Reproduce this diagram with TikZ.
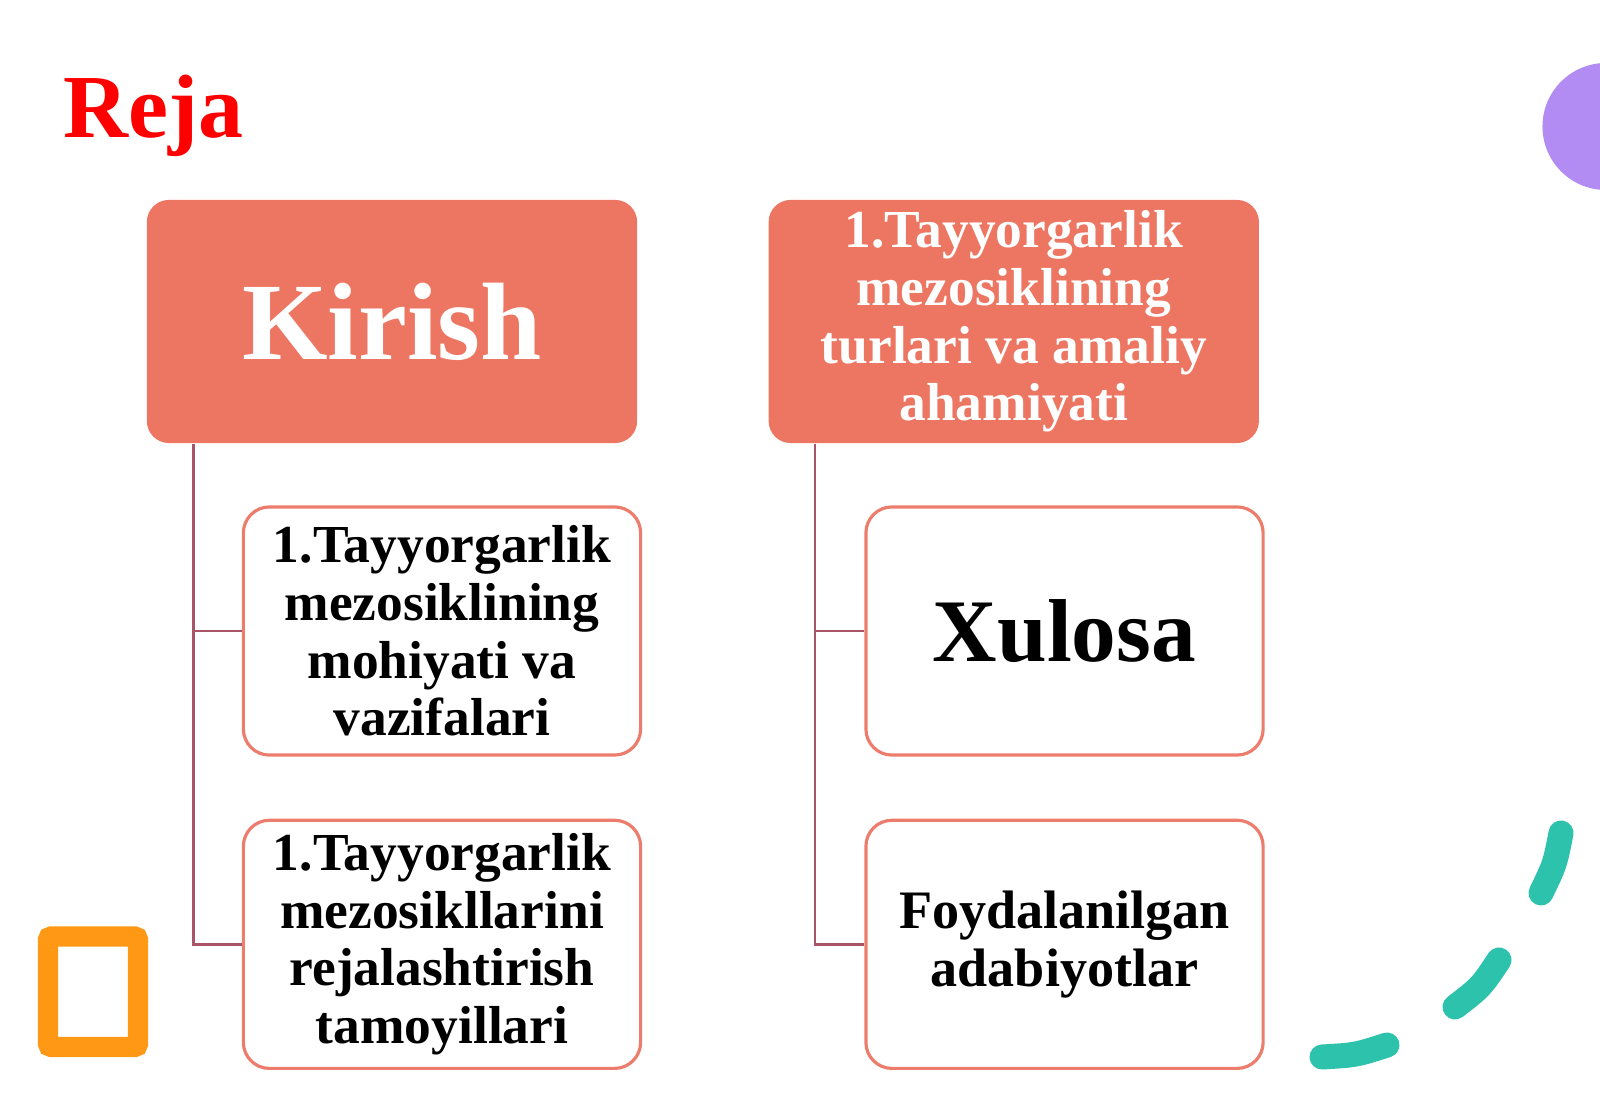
\documentclass[tikz,border=0pt]{standalone}
\usepackage{fontspec}
\setmainfont{Liberation Serif}
\usetikzlibrary{positioning}
\definecolor{salmon}{RGB}{237,118,98}
\definecolor{rim}{RGB}{236,124,108}
\definecolor{stem}{RGB}{170,84,104}
\definecolor{lilac}{RGB}{178,140,242}
\definecolor{aqua}{RGB}{44,194,172}
\definecolor{amber}{RGB}{255,152,20}
\tikzstyle{head}=[rectangle, rounded corners=0.22cm, fill=salmon, text=white, minimum width=4.9cm, minimum height=2.43cm, inner sep=0pt, align=center, font=\bfseries\fontsize{15.2}{16.4}\selectfont]
\tikzstyle{item}=[rectangle, rounded corners=0.26cm, draw=rim, line width=0.9pt, fill=white, minimum width=3.97cm, minimum height=2.48cm, inner sep=0pt, align=center, font=\bfseries\fontsize{15.2}{16.4}\selectfont]
\tikzstyle{link}=[draw=stem, line width=0.8pt]

\begin{document}
\begin{tikzpicture}[x=0.01cm,y=-0.01cm]
\useasboundingbox (0,0) rectangle (1600,1107);
\clip (0,0) rectangle (1600,1107);

\node[text=red, font=\bfseries\fontsize{25.6}{30}\selectfont, anchor=base west, inner sep=0pt] (reja) at (63,138) {Reja};

\node[head, font=\bfseries\fontsize{31.3}{36}\selectfont] (kir) at (392,321.5) {Kirish};
\node[head] (tur) [right=1.3cm of kir] {1.Tayyorgarlik\\mezosiklining\\turlari va amaliy\\ahamiyati};
\node[item] (moh) at (442,631) {1.Tayyorgarlik\\mezosiklining\\mohiyati va\\vazifalari};
\node[item] (rej) [below=0.62cm of moh] {1.Tayyorgarlik\\mezosikllarini\\rejalashtirish\\tamoyillari};
\node[item, font=\bfseries\fontsize{25.4}{30}\selectfont] (xul) [right=2.22cm of moh] {Xulosa};
\node[item, font=\bfseries\fontsize{15.4}{16.4}\selectfont] (foy) [right=2.22cm of rej] {Foydalanilgan\\adabiyotlar};

\coordinate (kl) at ([xshift=0.47cm]kir.south west);
\coordinate (tl) at ([xshift=0.47cm]tur.south west);
\draw[link] (kl) |- (moh.west);
\draw[link] (kl) |- (rej.west);
\draw[link] (tl) |- (xul.west);
\draw[link] (tl) |- (foy.west);

% bezaklar
\draw[amber, line width=0.2cm, rounded corners=0.03cm] (48,936.5) rectangle (138,1047);
\fill[lilac] (1606,126.5) circle[radius=0.635cm];
\draw[aqua, line width=0.25cm, line cap=round] (1561,833) .. controls (1555,864) .. (1541,893);
\draw[aqua, line width=0.25cm, line cap=round] (1499,960) .. controls (1481,987) .. (1455,1007);
\draw[aqua, line width=0.25cm, line cap=round] (1387,1045) .. controls (1356,1055) .. (1322,1057);

\end{tikzpicture}
\end{document}
